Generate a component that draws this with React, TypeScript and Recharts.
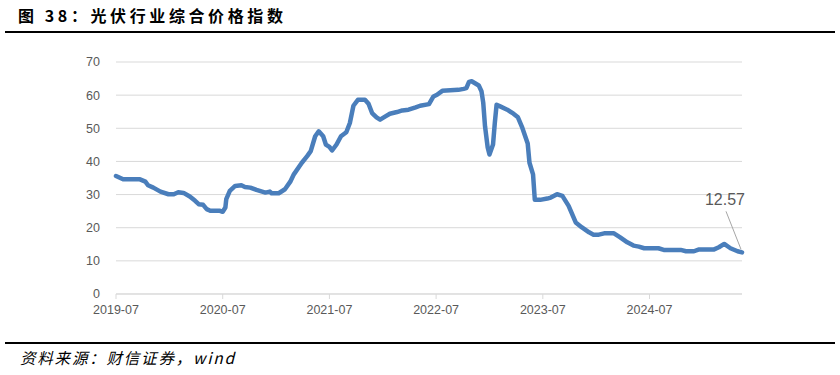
import { LineChart, Line, XAxis, YAxis, CartesianGrid } from "recharts";

// months since 2019-07 (x) and index value (y)
const months = [
  0.0, 0.8, 2.7, 3.3, 3.6, 4.2, 5.0, 5.9, 6.5, 7.0, 7.6, 8.3, 8.9, 9.3, 9.8, 10.2, 10.6, 11.7, 12.0,
  12.3, 12.4, 12.8, 13.4, 14.1, 14.5, 15.1, 15.8, 16.8, 17.3, 17.5, 18.3, 19.0, 19.6, 20.0, 20.9,
  21.5, 21.9, 22.4, 22.8, 23.3, 23.6, 24.0, 24.3, 24.8, 25.3, 25.9, 26.3, 26.7, 27.2, 28.0, 28.4,
  28.8, 29.3, 29.7, 30.3, 30.8, 31.6, 32.2, 32.9, 33.7, 34.2, 35.2, 35.7, 36.1, 36.7, 38.5, 39.1,
  39.4, 39.7, 40.0, 40.8, 41.1, 41.3, 41.5, 41.8, 42.0, 42.4, 42.6, 42.8, 43.2, 44.0, 44.7, 45.2,
  45.7, 46.3, 46.5, 46.9, 47.1, 47.7, 48.5, 48.9, 49.6, 50.2, 50.9, 51.7, 52.4, 53.2, 53.7, 54.3,
  54.9, 56.0, 56.7, 57.5, 58.2, 58.8, 59.4, 61.0, 61.6, 63.5, 64.1, 65.0, 65.5, 67.2, 67.8, 68.4,
  69.1, 69.9, 70.4,
];
const priceIndex = [
  35.6, 34.6, 34.6, 33.9, 32.8, 32.1, 30.9, 30.1, 30.1, 30.7, 30.5, 29.4, 28.1, 27.1, 26.9, 25.6,
  25.1, 25.1, 24.8, 26.1, 28.6, 31.1, 32.6, 32.8, 32.3, 32.1, 31.4, 30.6, 30.9, 30.4, 30.4, 31.6,
  33.9, 36.1, 39.6, 41.6, 43.1, 47.6, 49.1, 47.6, 45.1, 44.4, 43.3, 45.1, 47.6, 48.8, 51.6, 56.8,
  58.6, 58.6, 57.4, 54.6, 53.3, 52.6, 53.6, 54.4, 54.9, 55.4, 55.6, 56.3, 56.8, 57.3, 59.6, 60.1,
  61.3, 61.6, 61.9, 62.1, 64.0, 64.2, 62.9, 61.2, 57.7, 50.6, 44.2, 42.1, 45.1, 51.6, 57.1, 56.6,
  55.6, 54.4, 53.3, 50.1, 45.4, 39.6, 36.1, 28.4, 28.4, 28.8, 29.1, 30.1, 29.6, 26.6, 21.6, 20.1,
  18.6, 17.9, 17.9, 18.3, 18.3, 17.1, 15.6, 14.6, 14.3, 13.8, 13.8, 13.3, 13.3, 12.9, 12.9, 13.4,
  13.4, 14.1, 15.1, 13.8, 12.9, 12.57,
];
const xTicks = [0, 12, 24, 36, 48, 60];
const xTickLabels = ["2019-07", "2020-07", "2021-07", "2022-07", "2023-07", "2024-07"];
const yTicks = [0, 10, 20, 30, 40, 50, 60, 70];

const data = months.map((m, i) => ({ m, v: priceIndex[i] }));
const last = data.length - 1;

const axisFont = "'Liberation Sans', Arial, sans-serif";

function LastLabel(props: any) {
  const { x, y, index, value } = props;
  if (index !== last) return null;
  return (
    <g>
      <line x1={x - 1} y1={y - 3} x2={x - 16} y2={y - 41} stroke="#a6a6a6" strokeWidth={1} />
      <text
        x={x - 17}
        y={y - 47}
        textAnchor="middle"
        fontSize={16}
        fill="#595959"
        fontFamily={axisFont}
      >
        {value}
      </text>
    </g>
  );
}

export default function App() {
  return (
    <div style={{ position: "absolute", left: 0, top: 0, width: 840, height: 375, background: "#fff" }}>
      <div
        style={{
          position: "absolute",
          left: 18,
          top: 3,
          fontFamily: "'Noto Sans CJK SC', sans-serif",
          fontWeight: 700,
          fontSize: 16,
          letterSpacing: 3.6,
          color: "#000",
          whiteSpace: "nowrap",
        }}
      >
        图 38：光伏行业综合价格指数
      </div>
      <div style={{ position: "absolute", left: 5, top: 31, width: 830, height: 2, background: "#000" }} />

      <div style={{ position: "absolute", left: 0, top: 0 }}>
        <LineChart width={840} height={330} data={data} margin={{ top: 62, right: 98, left: 0, bottom: 6 }}>
          <CartesianGrid vertical={false} stroke="#d9d9d9" />
          <XAxis
            dataKey="m"
            type="number"
            domain={[0, 70.4]}
            ticks={xTicks}
            tickFormatter={(t: number) => xTickLabels[xTicks.indexOf(t)] ?? ""}
            height={30}
            tickSize={5}
            tickMargin={6}
            stroke="#d9d9d9"
            tick={{ fill: "#595959", fontSize: 12.5, fontFamily: axisFont }}
          />
          <YAxis
            domain={[0, 70]}
            ticks={yTicks}
            width={116}
            axisLine={false}
            tickLine={false}
            tickSize={6}
            tickMargin={10}
            tick={{ fill: "#595959", fontSize: 12.5, fontFamily: axisFont }}
          />
          <Line
            type="linear"
            dataKey="v"
            stroke="#4a7ebb"
            strokeWidth={4.5}
            dot={false}
            strokeLinejoin="round"
            strokeLinecap="round"
            isAnimationActive={false}
            label={<LastLabel />}
          />
        </LineChart>
      </div>

      <div style={{ position: "absolute", left: 5, top: 342, width: 830, height: 2, background: "#000" }} />
      <div
        style={{
          position: "absolute",
          left: 20,
          top: 346,
          fontFamily: "'Noto Sans CJK SC', sans-serif",
          fontStyle: "italic",
          fontSize: 15.5,
          letterSpacing: 1.8,
          color: "#000",
          whiteSpace: "nowrap",
        }}
      >
        资料来源：财信证券，wind
      </div>
    </div>
  );
}
